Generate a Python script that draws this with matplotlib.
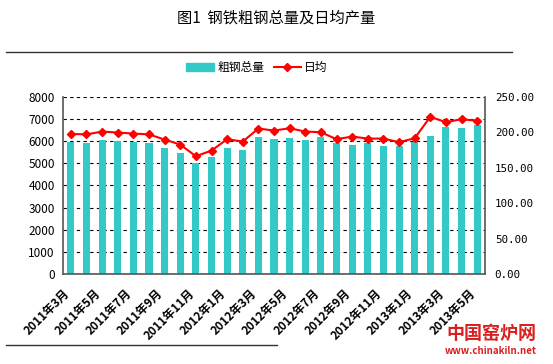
import matplotlib
matplotlib.use("Agg")
import matplotlib.pyplot as plt
from matplotlib.lines import Line2D
from matplotlib.patches import Patch
from matplotlib.transforms import ScaledTranslation

plt.rcParams['font.family'] = ['Noto Sans CJK SC', 'DejaVu Sans']

# 月份（每两个月显示一个标签）
months = ["2011年3月", "2011年4月", "2011年5月", "2011年6月", "2011年7月", "2011年8月",
          "2011年9月", "2011年10月", "2011年11月", "2011年12月", "2012年1月", "2012年2月",
          "2012年3月", "2012年4月", "2012年5月", "2012年6月", "2012年7月", "2012年8月",
          "2012年9月", "2012年10月", "2012年11月", "2012年12月", "2013年1月", "2013年2月",
          "2013年3月", "2013年4月", "2013年5月"]

# 粗钢总量（万吨）
total = [5980, 5905, 6055, 5995, 5965, 5905, 5695, 5485, 5030, 5275, 5710, 5605,
         6175, 6100, 6145, 6040, 6175, 5905, 5830, 5905, 5785, 5785, 5965, 6220,
         6660, 6585, 6720]

# 日均产量（万吨）
daily = [197.7, 197.0, 201.0, 199.6, 198.2, 197.0, 189.7, 182.7, 166.2, 174.2, 190.2, 186.9,
         205.3, 202.4, 205.7, 201.0, 200.1, 190.2, 194.0, 191.1, 191.1, 186.0, 191.6, 221.8,
         214.2, 218.5, 216.1]

bar_color = "#33C9C9"
line_color = "#FF0000"

fig = plt.figure(figsize=(5.53, 3.64), dpi=100)
ax = fig.add_axes([0.114, 0.247, 0.763, 0.487])
x = list(range(len(months)))

ax.bar(x, total, width=0.45, color=bar_color, zorder=2)
ax.set_xlim(-0.5, len(months) - 0.5)
ax.set_ylim(0, 8000)
ax.set_yticks(range(0, 8001, 1000))
ax.yaxis.grid(True, linestyle=(0, (3, 3)), color="black", linewidth=0.8, zorder=0)
ax.set_axisbelow(True)
ax.tick_params(axis="y", length=0, labelsize=8.5, pad=6)
ax.set_xticks(x[::2])
ax.set_xticklabels(months[::2], rotation=45, ha="right", rotation_mode="anchor",
                   fontsize=8.5, fontweight="bold")
ax.tick_params(axis="x", length=0, pad=9)
shift = ScaledTranslation(-6 / 72, 0, fig.dpi_scale_trans)
for lab in ax.get_xticklabels():
    lab.set_transform(lab.get_transform() + shift)
for s in ["left", "bottom"]:
    ax.spines[s].set_color("#555555")
    ax.spines[s].set_linewidth(1.2)
ax.spines["top"].set_visible(False)
ax.spines["right"].set_visible(False)

ax2 = ax.twinx()
ax2.plot(x, daily, color=line_color, linewidth=1.5, marker="D", markersize=4.5, zorder=3)
ax2.set_ylim(0, 250)
ax2.set_yticks(range(0, 251, 50))
ax2.set_yticklabels(["%.2f" % v for v in range(0, 251, 50)], family="DejaVu Sans Mono")
ax2.tick_params(axis="y", length=0, labelsize=7.8, pad=7)
ax2.spines["right"].set_color("#555555")
ax2.spines["right"].set_linewidth(1.2)
for s in ["left", "top", "bottom"]:
    ax2.spines[s].set_visible(False)

fig.text(0.5, 0.95, "图1  钢铁粗钢总量及日均产量", ha="center", va="center", fontsize=11)
fig.add_artist(Line2D([0.01, 0.925], [0.857, 0.857], color="#333333", linewidth=1))
fig.add_artist(Line2D([0.01, 0.5], [0.052, 0.052], color="#333333", linewidth=1))

handles = [Patch(color=bar_color), Line2D([], [], color=line_color, marker="D", markersize=4)]
fig.legend(handles, ["粗钢总量", "日均"], loc="center", bbox_to_anchor=(0.465, 0.815),
           ncol=2, frameon=False, fontsize=8.5, handlelength=2.3, handletextpad=0.3,
           columnspacing=0.8)

# 水印
fig.text(0.97, 0.085, "中国窑炉网", ha="right", va="center", fontsize=13,
         fontweight="bold", color="#D92020")
fig.text(0.97, 0.035, "www.chinakiln.net", ha="right", va="center", fontsize=7,
         fontweight="bold", color="#D92020")

fig.savefig("out.png", dpi=100)
